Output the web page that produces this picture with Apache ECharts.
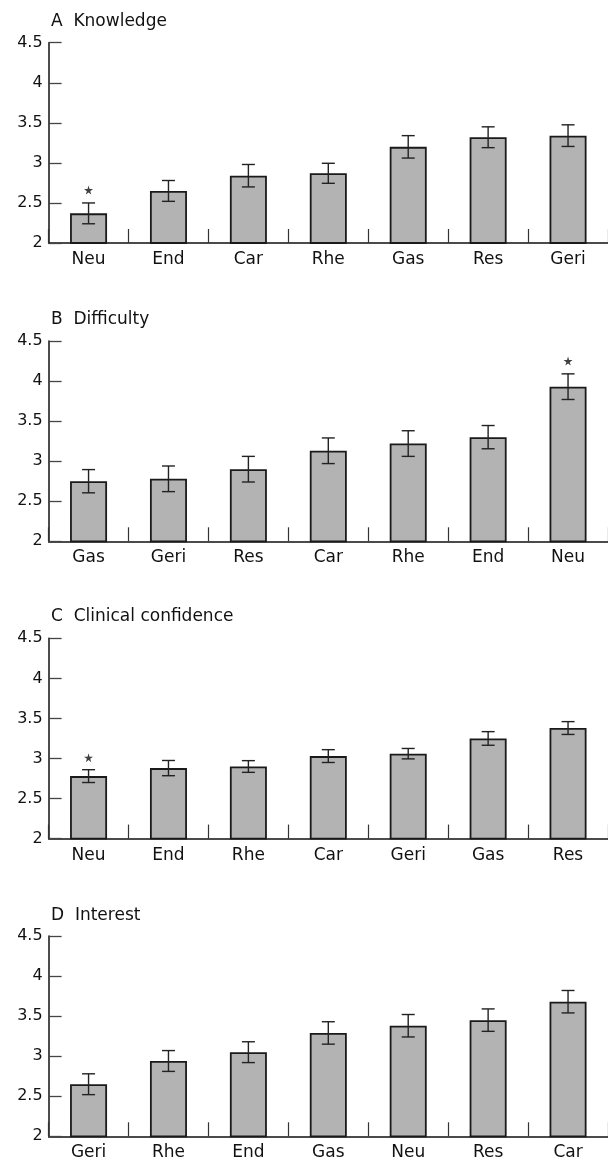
<!DOCTYPE html>
<html>
<head>
<meta charset="utf-8">
<style>
html,body{margin:0;padding:0;background:#fff;}
#chart{width:608px;height:1163px;}
</style>
<script src="https://cdn.jsdelivr.net/npm/echarts@6/dist/echarts.min.js"></script>
</head>
<body>
<div id="chart"></div>
<script>
// ---- data ----
const titles = ['A  Knowledge', 'B  Difficulty', 'C  Clinical confidence', 'D  Interest'];

const catsA = ['Neu', 'End', 'Car', 'Rhe', 'Gas', 'Res', 'Geri'];
const meanA = [2.37, 2.65, 2.84, 2.87, 3.20, 3.32, 3.34];
const errA  = [0.13, 0.13, 0.14, 0.125, 0.14, 0.13, 0.135];
const starA = [2.66, '-', '-', '-', '-', '-', '-'];

const catsB = ['Gas', 'Geri', 'Res', 'Car', 'Rhe', 'End', 'Neu'];
const meanB = [2.75, 2.78, 2.90, 3.13, 3.22, 3.30, 3.93];
const errB  = [0.145, 0.16, 0.16, 0.16, 0.16, 0.145, 0.16];
const starB = ['-', '-', '-', '-', '-', '-', 4.25];

const catsC = ['Neu', 'End', 'Rhe', 'Car', 'Geri', 'Gas', 'Res'];
const meanC = [2.78, 2.88, 2.90, 3.03, 3.06, 3.25, 3.38];
const errC  = [0.08, 0.095, 0.073, 0.08, 0.065, 0.085, 0.08];
const starC = [3.01, '-', '-', '-', '-', '-', '-'];

const catsD = ['Geri', 'Rhe', 'End', 'Gas', 'Neu', 'Res', 'Car'];
const meanD = [2.65, 2.94, 3.05, 3.29, 3.38, 3.45, 3.68];
const errD  = [0.13, 0.13, 0.13, 0.14, 0.14, 0.14, 0.14];
const starD = ['-', '-', '-', '-', '-', '-', '-'];

const yTicks = [2, 2.5, 3, 3.5, 4, 4.5];

// ---- layout ----
const FONT = '"DejaVu Sans", sans-serif';
const panels = [
  {cats: catsA, mean: meanA, err: errA, star: starA, top: 42.7, titleTop: 13},
  {cats: catsB, mean: meanB, err: errB, star: starB, top: 341, titleTop: 311},
  {cats: catsC, mean: meanC, err: errC, star: starC, top: 638.3, titleTop: 608},
  {cats: catsD, mean: meanD, err: errD, star: starD, top: 936, titleTop: 907}
];
const GRID_H = 200.3;

const chart = echarts.init(document.getElementById('chart'), null, {renderer: 'canvas'});

const option = {
  animation: false,
  backgroundColor: '#fff',
  title: [], grid: [], xAxis: [], yAxis: [], series: []
};

const starPath = 'path://M50,0 L61,35 L98,35 L68,57 L79,91 L50,70 L21,91 L32,57 L2,35 L39,35 Z';

panels.forEach((p, i) => {
  option.title.push({
    text: titles[i], left: 51, top: p.titleTop, padding: 0,
    textStyle: {fontFamily: FONT, fontSize: 17, fontWeight: 'normal', color: '#111'}
  });
  option.grid.push({left: 48.6, right: -5.5, top: p.top, height: GRID_H, containLabel: false});
  option.xAxis.push({
    type: 'category', gridIndex: i, data: p.cats, boundaryGap: true,
    axisLine: {show: true, lineStyle: {color: '#111', width: 1.5}},
    axisTick: {show: true, inside: true, interval: 0, length: 14, alignWithLabel: false,
      lineStyle: {color: '#333', width: 1.2}},
    axisLabel: {interval: 0, margin: 8, fontFamily: FONT, fontSize: 17, color: '#111'},
    splitLine: {show: false}
  });
  option.yAxis.push({
    type: 'value', gridIndex: i, min: yTicks[0], max: yTicks[yTicks.length - 1], interval: 0.5,
    axisLine: {show: true, lineStyle: {color: '#111', width: 1.5}},
    axisTick: {show: true, inside: true, length: 13, lineStyle: {color: '#444', width: 1.3}},
    axisLabel: {margin: 6, fontFamily: FONT, fontSize: 16, color: '#111',
      formatter: v => String(v)},
    splitLine: {show: false}
  });
  option.series.push({
    type: 'bar', xAxisIndex: i, yAxisIndex: i, data: p.mean, barWidth: 37,
    itemStyle: {color: '#b3b3b3', borderColor: '#1a1a1a', borderWidth: 1.8},
    z: 2
  });
  option.series.push({
    type: 'custom', xAxisIndex: i, yAxisIndex: i, z: 5,
    data: p.mean.map((m, k) => [k, m - p.err[k], m + p.err[k]]),
    renderItem: function (params, api) {
      const lo = api.coord([api.value(0), api.value(1)]);
      const hi = api.coord([api.value(0), api.value(2)]);
      const cap = 6.5;
      const st = {stroke: '#222', lineWidth: 1.4};
      return {
        type: 'group',
        children: [
          {type: 'line', shape: {x1: lo[0], y1: lo[1], x2: hi[0], y2: hi[1]}, style: st},
          {type: 'line', shape: {x1: lo[0] - cap, y1: lo[1], x2: lo[0] + cap, y2: lo[1]}, style: st},
          {type: 'line', shape: {x1: hi[0] - cap, y1: hi[1], x2: hi[0] + cap, y2: hi[1]}, style: st}
        ]
      };
    }
  });
  option.series.push({
    type: 'scatter', xAxisIndex: i, yAxisIndex: i, data: p.star,
    symbol: starPath, symbolSize: 9,
    itemStyle: {color: '#111'}, z: 6
  });
});

chart.setOption(option);
</script>
</body>
</html>
